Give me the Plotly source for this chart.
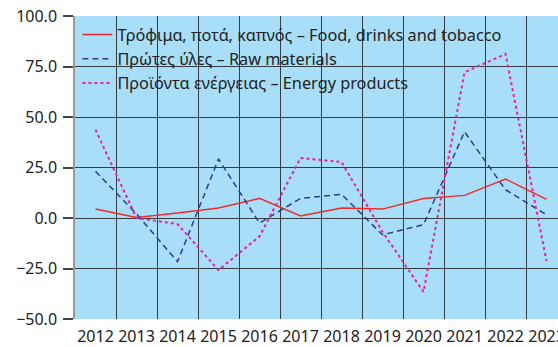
import plotly.graph_objects as go

# Annual % change by product group
years = ["2012", "2013", "2014", "2015", "2016", "2017", "2018",
         "2019", "2020", "2021", "2022", "2023"]
food = [4.5, 0.3, 2.5, 4.9, 9.7, 1.0, 4.9, 4.4, 9.6, 11.2, 19.3, 9.2]
raw = [23.1, 2.0, -21.6, 29.2, -2.5, 9.7, 11.7, -8.3, -3.3, 42.7, 14.0, 1.6]
energy = [43.7, 0.0, -3.0, -25.8, -9.1, 29.7, 27.7, -6.8, -36.6, 72.1, 81.2, -21.3]

names = [
    "Τρόφιμα, ποτά, καπνός – Food, drinks and tobacco",
    "Πρώτες ύλες – Raw materials",
    "Προϊόντα ενέργειας – Energy products",
]
y_ticks = [-50, -25, 0, 25, 50, 75, 100]

FONT = "Noto Sans"
GRID = "rgba(20,20,20,0.8)"

fig = go.Figure()
fig.add_trace(go.Scatter(x=years, y=food, name=names[0], mode="lines",
                         line=dict(color="#ee2b2b", width=1.5)))
fig.add_trace(go.Scatter(x=years, y=raw, name=names[1], mode="lines",
                         line=dict(color="#2e3a96", width=1.5, dash="6px,4px")))
fig.add_trace(go.Scatter(x=years, y=energy, name=names[2], mode="lines",
                         line=dict(color="#e8229c", width=2, dash="dot")))

fig.update_layout(
    width=558, height=347,
    margin=dict(l=75, r=0, t=16, b=28),
    paper_bgcolor="white",
    plot_bgcolor="#a9def8",
    font=dict(family=FONT, size=16, color="#222222"),
    showlegend=True,
    legend=dict(x=0.005, y=0.995, xanchor="left", yanchor="top",
                bgcolor="rgba(0,0,0,0)", font=dict(size=16.3, family=FONT),
                tracegroupgap=0),
    xaxis=dict(type="category", tickson="boundaries", range=[-0.5, 11.28],
               showgrid=True, gridcolor=GRID, gridwidth=1.3,
               ticks="", showline=False, tickangle=0, automargin=False,
               ticklabelstandoff=6, tickfont=dict(size=16)),
    yaxis=dict(range=[-50, 100], tickvals=y_ticks, tickformat=".1f",
               showgrid=True, gridcolor=GRID, gridwidth=1.3, zeroline=False,
               showline=True, linecolor="#999999", linewidth=1.5,
               ticks="outside", ticklen=10, tickcolor="#444444", tickwidth=1.5,
               ticklabelstandoff=3, automargin=False, tickfont=dict(size=16)),
)

fig.write_html("out.html")
